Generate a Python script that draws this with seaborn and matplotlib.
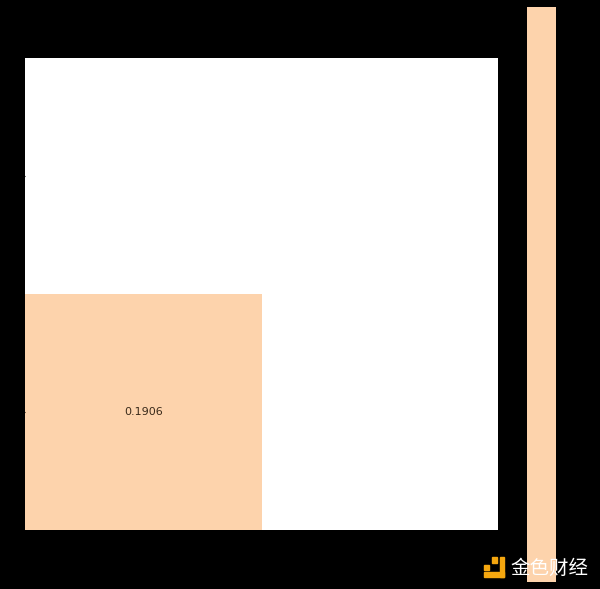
import numpy as np
import pandas as pd
from matplotlib import pyplot as plt
from matplotlib.colors import ListedColormap
from matplotlib.patches import Rectangle
import seaborn as sns

# only one cell of the 2x2 matrix has a value
row_labels = ["0", "1"]
col_labels = ["0", "1"]
row_top = [np.nan, np.nan]
row_bottom = [0.1906, np.nan]

peach = "#FDD3AC"
orange = "#F5A70F"
W, H = 600, 589


def fig_box(x0, y0, x1, y1):
    # pixel box (y from top) to figure fractions
    return [x0 / W, 1 - y1 / H, (x1 - x0) / W, (y1 - y0) / H]


data = pd.DataFrame([row_top, row_bottom], index=row_labels, columns=col_labels)

plt.rcParams['font.family'] = ['Noto Sans CJK SC', 'DejaVu Sans']

fig = plt.figure(figsize=(W / 100, H / 100), dpi=100, facecolor="black")
ax = fig.add_axes(fig_box(25, 58, 498, 530))
cax = fig.add_axes(fig_box(527, 7, 556, 582))

sns.heatmap(data, ax=ax, cbar_ax=cax, cmap=ListedColormap([peach]), annot=True, fmt=".4f",
            annot_kws={"size": 8, "color": "#3a2a1a", "family": "DejaVu Sans"},
            linewidths=0)
ax.set_facecolor("white")
ax.set_xticklabels([])
ax.set_yticklabels([])
ax.tick_params(length=2, width=0.8, color="black")
ax.set_xlabel("")
ax.set_ylabel("")

cax.tick_params(length=0, labelleft=False, labelright=False)

# watermark, bottom right
for box in [(484, 565, 489, 570), (492, 557, 497, 563), (500, 557, 504, 577), (484, 572, 504, 577)]:
    x0, y0, x1, y1 = box
    fig.add_artist(Rectangle((x0 / W, 1 - y1 / H), (x1 - x0) / W, (y1 - y0) / H, color=orange,
                             transform=fig.transFigure))
fig.text(510 / W, 1 - 568 / H, "金色财经", color="white", fontsize=14, va="center", ha="left")

fig.savefig("out.png", dpi=100, facecolor="black")
